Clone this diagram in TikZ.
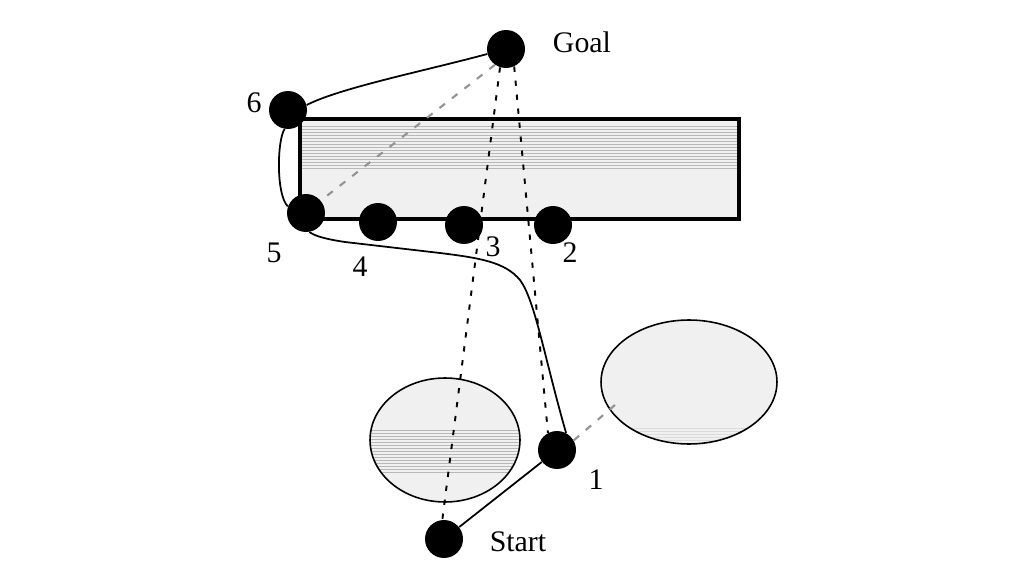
\documentclass[tikz,border=0pt]{standalone}
\usepackage{fontspec}
\setmainfont{Liberation Serif}
\begin{document}
\begin{tikzpicture}[x=0.02cm,y=-0.02cm,
  dot/.style={circle,fill=black,minimum size=0.76cm,inner sep=0pt},
  lbl/.style={font=\fontsize{17}{20}\selectfont,inner sep=0pt},
  route/.style={line width=1pt,black},
  sight/.style={line width=1.1pt,black,dash pattern=on 3pt off 5pt},
  sightgray/.style={line width=1.2pt,gray!85,dash pattern=on 4pt off 5pt},
  hatch/.style={black!28,line width=0.4pt}]
\useasboundingbox (0,0) rectangle (1024,574);
\fill[white] (0,0) rectangle (1024,574);
% rectangle obstacle
\fill[black!6] (300,119) rectangle (739,219);
\foreach \yy in {126,129,...,168} \draw[hatch] (301,\yy) -- (738,\yy);
\draw[line width=1.8pt] (300,119) rectangle (739,219);
% left ellipse
\fill[black!6] (445,440) ellipse [x radius=1.5cm,y radius=1.24cm];
\begin{scope}
  \clip (445,440) ellipse [x radius=1.5cm,y radius=1.24cm];
  \foreach \yy in {430,433,...,472} \draw[hatch] (360,\yy) -- (530,\yy);
\end{scope}
\draw[line width=0.9pt] (445,440) ellipse [x radius=1.5cm,y radius=1.24cm];
% right ellipse
\fill[black!6] (689,382) ellipse [x radius=1.76cm,y radius=1.24cm];
\begin{scope}
  \clip (689,382) ellipse [x radius=1.76cm,y radius=1.24cm];
  \foreach \yy in {428,431,...,440} \draw[black!14,line width=0.35pt] (590,\yy) -- (790,\yy);
\end{scope}
\draw[line width=0.9pt] (689,382) ellipse [x radius=1.76cm,y radius=1.24cm];
\coordinate (re) at (615,405);
% points
\node[dot] (g) at (506,49) {};
\node[dot] (n6) at (288,110) {};
\node[dot] (n5) at (306,213) {};
\node[dot] (n4) at (378,222) {};
\node[dot] (n3) at (464,225) {};
\node[dot] (n2) at (553,225) {};
\node[dot] (n1) at (557,450) {};
\node[dot] (st) at (444,539) {};
% labels
\node[lbl] (lg) at (582,42) {Goal};
\node[lbl] (l6) at (254,103) {6};
\node[lbl] (l5) at (274,253) {5};
\node[lbl] (l4) at (360,267) {4};
\node[lbl] (l3) at (493,247) {3};
\node[lbl] (l2) at (570,253) {2};
\node[lbl] (l1) at (596,480) {1};
\node[lbl] (ls) at (518,542) {Start};
% sight lines
\draw[sightgray] (g.235) -- (n5.40);
\draw[sight] (g.252) -- (st.95);
\draw[sight] (g.295) -- (n1.118);
\draw[sightgray] (n1.30) -- (re);
% route
\draw[route] (st) -- (n1);
\draw[route] (n1.62) .. controls (545,360) and (535,300) .. (520,280)
  .. controls (505,262) and (480,258) .. (440,253)
  -- (345,242) .. controls (325,239) and (315,236) .. (n5.-80);
\draw[route] (n5.160) .. controls (276,195) and (277,140) .. (n6.-100);
\draw[route] (n6.15) .. controls (340,88) and (420,72) .. (g.195);
\end{tikzpicture}
\end{document}
